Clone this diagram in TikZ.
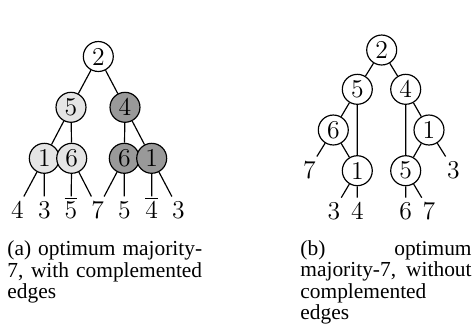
\documentclass[tikz,border=0pt]{standalone}
\usepackage{fontspec}
\newfontfamily\capfont{Liberation Serif}
\begin{document}
\begin{tikzpicture}[x=0.4673pt,y=-0.4673pt,
  nd/.style={circle,draw,line width=0.55pt,minimum size=14pt,inner sep=0pt,font=\large},
  lt/.style={nd,fill=black!10},
  dk/.style={nd,fill=black!40},
  lf/.style={inner sep=1pt,text height=9pt,text depth=0pt,font=\large,anchor=base},
  ed/.style={line width=0.55pt},
  captxt/.style={align=justify,inner sep=0pt,anchor=base west,
    font=\capfont\fontsize{10}{10.1}\selectfont}]
\useasboundingbox (0,0) rectangle (475,327);
% tree (a)
\node[nd] (a2) at (98.3,56.5) {2};
\node[lt] (a5) at (71,107.3) {5};
\node[dk] (a4) at (125,107.3) {4};
\node[lt] (a1) at (44.3,158.3) {1};
\node[lt] (a6) at (71.7,158.3) {6};
\node[dk] (a6d) at (124.3,158.3) {6};
\node[dk] (a1d) at (151.7,158.3) {1};
\node[lf] (l1) at (17.3,218.3) {4};
\node[lf] (l2) at (44.3,218.3) {3};
\node[lf] (l3) at (71,218.3) {$\overline{5}$};
\node[lf] (l4) at (97.7,218.3) {7};
\node[lf] (l5) at (124.3,218.3) {5};
\node[lf] (l6) at (151.7,218.3) {$\overline{4}$};
\node[lf] (l7) at (178.3,218.3) {3};
\draw[ed] (a2)--(a5) (a2)--(a4) (a5)--(a1) (a5)--(a6) (a4)--(a6d) (a4)--(a1d)
  (a1)--(l1) (a1)--(l2) (a6)--(l3) (a6)--(l4) (a6d)--(l4) (a6d)--(l5)
  (a1d)--(l6) (a1d)--(l7);
% tree (b)
\node[nd] (b2) at (381.7,50) {2};
\node[nd] (b5) at (357.3,89.3) {5};
\node[nd] (b4) at (405.7,89.3) {4};
\node[nd] (b6) at (333.3,130) {6};
\node[nd] (b1r) at (429,130) {1};
\node[nd] (b1) at (357.3,170.7) {1};
\node[nd] (b5l) at (405.7,170.7) {5};
\node[lf] (m7) at (309.3,178.3) {7};
\node[lf] (m3) at (453.3,178.3) {3};
\node[lf] (n3) at (334,219.5) {3};
\node[lf] (n4) at (357.3,219.5) {4};
\node[lf] (n6) at (405.7,219.5) {6};
\node[lf] (n7) at (429,219.5) {7};
\draw[ed] (b2)--(b5) (b2)--(b4) (b5)--(b6) (b5)--(b1) (b6)--(m7) (b6)--(b1)
  (b4)--(b5l) (b4)--(b1r) (b1r)--(b5l) (b1r)--(m3)
  (b1)--(n3) (b1)--(n4) (b5l)--(n6) (b5l)--(n7);
% captions
\node[captxt,text width=91pt] (ca) at (7,255.5)
  {(a) optimum majority-\linebreak 7, with complemented\linebreak edges};
\node[captxt,text width=80pt] (cb) at (300,255)
  {(b) optimum\linebreak majority-7, without\linebreak complemented\newline edges};
\end{tikzpicture}
\end{document}
